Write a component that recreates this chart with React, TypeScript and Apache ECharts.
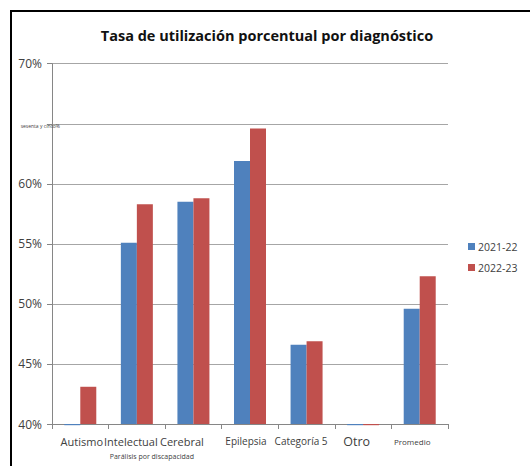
import React, { useEffect, useRef } from "react";
import * as echarts from "echarts";

const categories = ["Autismo", "Intelectual", "Cerebral", "Epilepsia", "Categoría 5", "Otro", "Promedio"];
const subLabel = "Parálisis por discapacidad";
const seriesNames = ["2021-22", "2022-23"];
const values2122 = [39.9, 55.1, 58.5, 61.9, 46.6, 39.9, 49.6];
const values2223 = [43.1, 58.3, 58.8, 64.6, 46.9, 39.9, 52.3];
const axisMin = 40;
const axisMax = 70;
const axisStep = 5;
const yTickLabels: Record<number, string> = {
  40: "40%",
  45: "45%",
  50: "50%",
  55: "55%",
  60: "60%",
  65: "sesenta y cinco%",
  70: "70%",
};
const title = "Tasa de utilización porcentual por diagnóstico";

const FONT = "'Open Sans', 'Noto Sans', sans-serif";
const TEXT = "#404040";

export default function App() {
  const ref = useRef<HTMLDivElement>(null);
  useEffect(() => {
    if (!ref.current) return;
    const chart = echarts.init(ref.current, null, { renderer: "svg" });
    const tok = (fontSize: number, padding: number[]) => ({
      fontSize,
      lineHeight: 16,
      padding,
      color: TEXT,
      fontFamily: FONT,
    });
    const rich: any = {
      c0: tok(11, [0, 0, 0, 3]),
      c1: tok(11, [0, 12, 0, 0]),
      c2: tok(11, [0, 23, 0, 0]),
      c3: tok(10, [0, 8, 0, 0]),
      c4: tok(10, [0, 11, 0, 0]),
      c5: tok(12.5, [0, 13, 0, 0]),
      c6: tok(8, [0, 15, 0, 0]),
      sub: { fontSize: 7, lineHeight: 15, padding: [0, 0, 0, 30], color: TEXT, fontFamily: FONT },
    };
    const yCommon = {
      type: "value" as const,
      min: axisMin,
      max: axisMax,
      interval: axisStep,
    };
    const baseData = categories.map(() => axisMin);
    const makeSeries = (name: string, values: number[], color: string, stack: string) => [
      {
        name: stack + "-base",
        type: "bar",
        stack,
        stackStrategy: "all",
        data: baseData,
        barWidth: 16,
        barGap: "0%",
        silent: true,
        itemStyle: { color: "rgba(0,0,0,0)" },
        emphasis: { disabled: true },
      },
      {
        name,
        type: "bar",
        stack,
        stackStrategy: "all",
        data: values.map((v) => +(v - axisMin).toFixed(3)),
        barWidth: 16,
        barGap: "0%",
        clip: false,
        itemStyle: { color },
      },
    ];
    chart.setOption({
      animation: false,
      backgroundColor: "transparent",
      title: {
        text: title,
        left: 262,
        top: 23,
        textAlign: "center",
        textStyle: { fontFamily: FONT, fontSize: 14.5, fontWeight: "bold", color: "#111" },
      },
      legend: {
        orient: "vertical",
        left: 468,
        top: 241,
        padding: 0,
        itemWidth: 7,
        itemHeight: 7,
        itemGap: 10,
        icon: "rect",
        textStyle: { fontFamily: FONT, fontSize: 10.5, color: TEXT, padding: [0, 0, 0, -2] },
        data: seriesNames,
      },
      grid: { left: 52, right: 82, top: 63.7, bottom: 42, containLabel: false },
      xAxis: {
        type: "category",
        data: categories,
        axisLine: { lineStyle: { color: "#868686", width: 1 } },
        axisTick: { show: true, length: 5, lineStyle: { color: "#868686" } },
        axisLabel: {
          interval: 0,
          hideOverlap: false,
          margin: 9,
          formatter: (v: string, i: number) =>
            i === 1 ? `{c1|${v}}\n{sub|${subLabel}}` : `{c${i}|${v}}`,
          rich,
        },
      },
      yAxis: [
        {
          ...yCommon,
          axisLine: { show: true, lineStyle: { color: "#868686", width: 1 } },
          axisTick: { show: true, length: 5, lineStyle: { color: "#868686" } },
          splitLine: { show: true, lineStyle: { color: "#a6a6a6", width: 1.2 } },
          axisLabel: {
            margin: 10,
            fontSize: 12,
            fontFamily: FONT,
            color: TEXT,
            formatter: (v: number) => (v === 65 ? "" : yTickLabels[v] ?? ""),
          },
        },
        {
          ...yCommon,
          position: "left",
          axisLine: { show: false },
          axisTick: { show: false },
          splitLine: { show: false },
          axisLabel: {
            margin: -8,
            formatter: (v: number) => (v === 65 ? `{s|${yTickLabels[v]}}` : ""),
            rich: { s: { fontSize: 5, fontFamily: FONT, color: TEXT, padding: [4, 0, 0, 0] } },
          },
        },
      ],
      series: [
        ...makeSeries(seriesNames[0], values2122, "#4F81BD", "a"),
        ...makeSeries(seriesNames[1], values2223, "#C0504D", "b"),
      ],
    });
    return () => chart.dispose();
  }, []);

  return (
    <div style={{ position: "fixed", left: 0, top: 0, width: 530, height: 466, background: "#fff", overflow: "hidden" }}>
      <div
        style={{
          position: "absolute",
          left: 10,
          top: 10,
          width: 600,
          height: 600,
          borderTop: "2.4px solid #000",
          borderLeft: "2.4px solid #000",
        }}
      />
      <div ref={ref} style={{ position: "absolute", left: 0, top: 0, width: 530, height: 466 }} />
    </div>
  );
}
